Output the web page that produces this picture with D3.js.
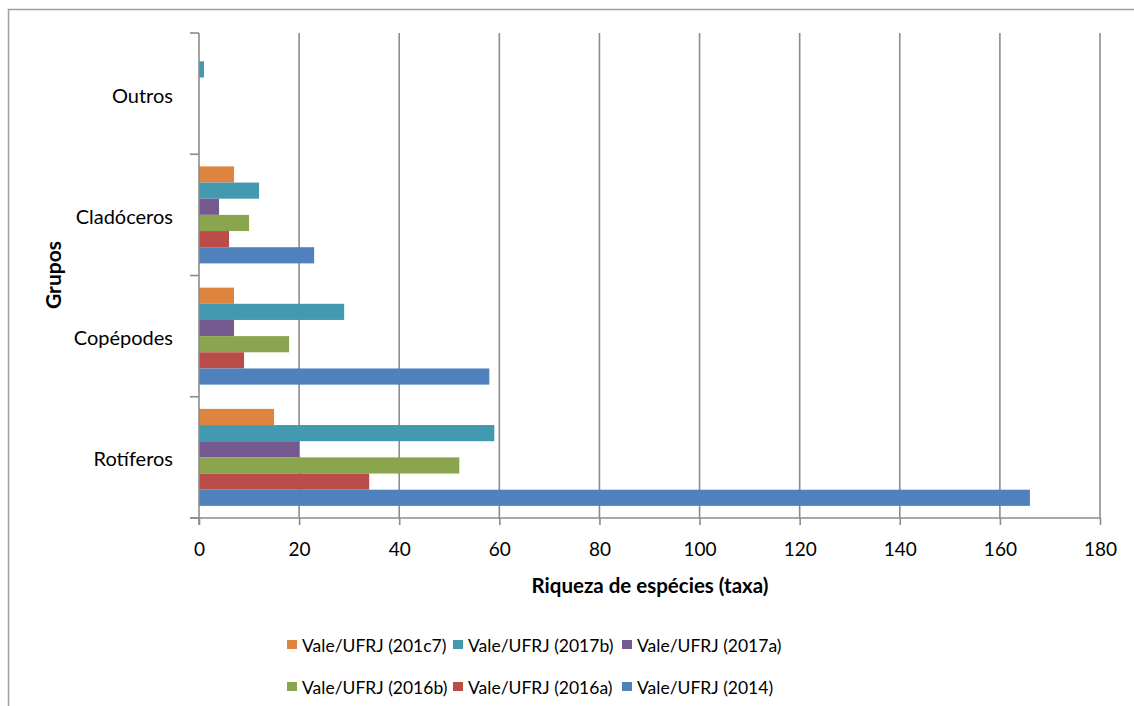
<!DOCTYPE html>
<html>
<head>
<meta charset="utf-8">
<script src="https://cdn.jsdelivr.net/npm/d3@7"></script>
<style>
  html, body { margin: 0; padding: 0; background: #fff; }
  svg { display: block; font-family: Lato, "Open Sans", sans-serif; }
</style>
</head>
<body>
<svg id="chart" width="1134" height="706"></svg>
<script>
// ---- data ----
const categories = ["Outros", "Cladóceros", "Copépodes", "Rotíferos"];
const seriesNames = ["Vale/UFRJ (201c7)", "Vale/UFRJ (2017b)", "Vale/UFRJ (2017a)",
                     "Vale/UFRJ (2016b)", "Vale/UFRJ (2016a)", "Vale/UFRJ (2014)"];
// values per series, in category order [Outros, Cladóceros, Copépodes, Rotíferos]
const s201c7 = [0, 7, 7, 15];
const s2017b = [1, 12, 29, 59];
const s2017a = [0, 4, 7, 20];
const s2016b = [0, 10, 18, 52];
const s2016a = [0, 6, 9, 34];
const s2014  = [0, 23, 58, 166];
const xTicks = [0, 20, 40, 60, 80, 100, 120, 140, 160, 180];
const xTitle = "Riqueza de espécies (taxa)";
const yTitle = "Grupos";

const seriesValues = [s201c7, s2017b, s2017a, s2016b, s2016a, s2014];
const colors = ["#DD853F", "#4399AF", "#745A8F", "#8AA54E", "#BA4C49", "#4F81BD"];

(function () {
// ---- layout ----
const svg = d3.select("#chart");
const pLeft = 199, pRight = 1100, pTop = 33, pBottom = 518;
const gridColor = "#8c8c8c";

// outer chart border
svg.append("rect").attr("x", 8.5).attr("y", 9.5).attr("width", 1140).attr("height", 720)
  .attr("fill", "none").attr("stroke", "#a0a0a0").attr("stroke-width", 1.5);

const x = d3.scaleLinear().domain([0, 180]).range([pLeft, pRight]);
const y = d3.scaleBand().domain(categories).range([pTop, pBottom]).paddingInner(0.2).paddingOuter(0.1);
const yInner = d3.scaleBand().domain(seriesNames).range([0, y.bandwidth()]).padding(0);

// gridlines
svg.append("g").selectAll("line").data(xTicks.filter(d => d > 0)).join("line")
  .attr("x1", d => x(d)).attr("x2", d => x(d))
  .attr("y1", pTop).attr("y2", pBottom)
  .attr("stroke", gridColor).attr("stroke-width", 1.6);

// bars
const records = [];
seriesNames.forEach((s, i) => categories.forEach((c, j) => {
  records.push({ series: s, cat: c, value: seriesValues[i][j], color: colors[i] });
}));
svg.append("g").selectAll("rect").data(records.filter(d => d.value > 0)).join("rect")
  .attr("x", x(0))
  .attr("y", d => y(d.cat) + yInner(d.series))
  .attr("width", d => x(d.value) - x(0))
  .attr("height", yInner.bandwidth())
  .attr("fill", d => d.color);

// x axis
const xAxis = d3.axisBottom(x).tickValues(xTicks).tickSize(7).tickSizeOuter(0);
const gx = svg.append("g").attr("transform", `translate(0,${pBottom})`).call(xAxis);
gx.select(".domain").remove();
gx.selectAll(".tick line").attr("stroke", gridColor).attr("stroke-width", 1.6);
gx.selectAll(".tick text").attr("font-size", 19).attr("fill", "#000")
  .attr("y", 31).attr("dy", "0.35em")
  .style("font-family", "Lato, sans-serif");
svg.append("line").attr("x1", pLeft - 9).attr("x2", pRight).attr("y1", pBottom).attr("y2", pBottom)
  .attr("stroke", gridColor).attr("stroke-width", 1.6);

// y axis line and boundary ticks
svg.append("line").attr("x1", pLeft).attr("x2", pLeft).attr("y1", pTop).attr("y2", pBottom + 7)
  .attr("stroke", gridColor).attr("stroke-width", 1.6);
const step = y.step();
const boundaries = categories.map(c => y(c) - step * y.paddingInner() / 2).concat([pBottom]);
svg.append("g").selectAll("line").data(boundaries).join("line")
  .attr("x1", pLeft - 9).attr("x2", pLeft).attr("y1", d => d).attr("y2", d => d)
  .attr("stroke", gridColor).attr("stroke-width", 1.6);

// category labels
svg.append("g").selectAll("text").data(categories).join("text")
  .attr("x", 173).attr("y", d => y(d) + y.bandwidth() / 2 + 1)
  .attr("text-anchor", "end").attr("dominant-baseline", "central")
  .attr("font-size", 20).attr("fill", "#000").text(d => d);

// axis titles
svg.append("text").attr("x", 650).attr("y", 585)
  .attr("text-anchor", "middle").attr("dominant-baseline", "central")
  .attr("font-size", 20.5).attr("font-weight", "bold").attr("fill", "#000").text(xTitle);
svg.append("text").attr("transform", "translate(52,275) rotate(-90)")
  .attr("text-anchor", "middle").attr("dominant-baseline", "central")
  .attr("font-size", 21).attr("font-weight", "bold").attr("fill", "#000").text(yTitle);

// legend
const colX = [287, 453, 622];
const rowY = [645, 687];
const lg = svg.append("g").selectAll("g").data(seriesNames).join("g")
  .attr("transform", (d, i) => `translate(${colX[i % 3]},${rowY[Math.floor(i / 3)]})`);
lg.append("rect").attr("x", 0).attr("y", -5).attr("width", 10).attr("height", 9)
  .attr("fill", (d, i) => colors[i]);
lg.append("text").attr("x", 15).attr("y", 0).attr("dominant-baseline", "central")
  .attr("font-size", 17.5).attr("fill", "#000").text(d => d);
})();
</script>
</body>
</html>
